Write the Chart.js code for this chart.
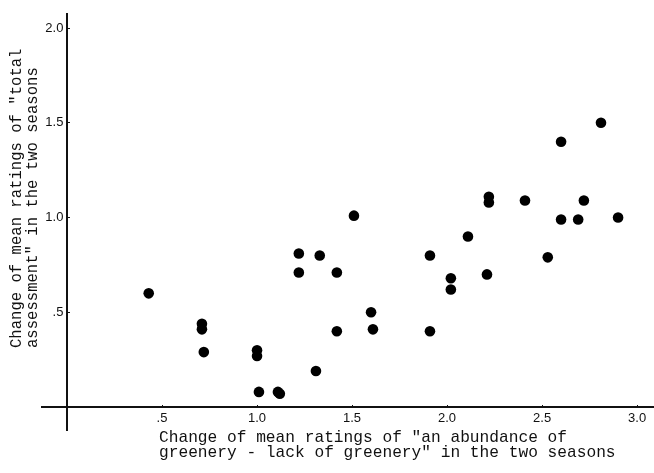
<!DOCTYPE html>
<html>
<head>
<meta charset="utf-8">
<script src="https://cdn.jsdelivr.net/npm/chart.js@4"></script>
<style>
  html, body { margin: 0; padding: 0; background: #fff; }
  #wrap { width: 654px; height: 473px; }
</style>
</head>
<body>
<div id="wrap"><canvas id="scatter" width="654" height="473"></canvas></div>
<script>
// change of "abundance of greenery" rating (x) vs change of "total assessment" (y)
const greeneryChange = [0.43, 0.71, 0.71, 0.72, 1.00, 1.00, 1.01, 1.11, 1.12, 1.22, 1.22, 1.33, 1.31, 1.42, 1.42, 1.51, 1.60,
  1.61, 1.91, 1.91, 2.02, 2.02, 2.11, 2.22, 2.22, 2.21, 2.41, 2.53, 2.60, 2.60, 2.69, 2.72, 2.81, 2.90];
const assessmentChange = [0.60, 0.44, 0.41, 0.29, 0.30, 0.27, 0.08, 0.08, 0.07, 0.81, 0.71, 0.80, 0.19, 0.71, 0.40, 1.01, 0.50,
  0.41, 0.80, 0.40, 0.68, 0.62, 0.90, 1.11, 1.08, 0.70, 1.09, 0.79, 1.40, 0.99, 0.99, 1.09, 1.50, 1.00];

const xTicks = [0.5, 1.0, 1.5, 2.0, 2.5, 3.0];
const xTickLabels = ['.5', '1.0', '1.5', '2.0', '2.5', '3.0'];
const yTicks = [0.5, 1.0, 1.5, 2.0];
const yTickLabels = ['.5', '1.0', '1.5', '2.0'];

const xCaption = ['Change of mean ratings of "an abundance of', 'greenery - lack of greenery" in the two seasons'];
const yCaption = ['Change of mean ratings of "total', 'assessment" in the two seasons'];

const INK = '#111';
const tickFont = { family: '"Liberation Sans", Arial, sans-serif', size: 13 };

// axis captions, left aligned like the typewritten original
const captions = {
    id: 'captions',
    afterDraw(chart) {
        const ctx = chart.ctx;
        ctx.save();
        ctx.fillStyle = INK;
        ctx.textAlign = 'left';
        ctx.textBaseline = 'middle';
        ctx.font = '16.2px "Liberation Mono", "Courier New", monospace';
        xCaption.forEach((line, i) => ctx.fillText(line, 159, 438 + i * 15));
        ctx.font = '15.6px "Liberation Mono", "Courier New", monospace';
        ctx.translate(17, 348);
        ctx.rotate(-Math.PI / 2);
        yCaption.forEach((line, i) => ctx.fillText(line, 0, i * 16));
        ctx.restore();
    }
};

new Chart(document.getElementById('scatter'), {
    type: 'scatter',
    data: {
        datasets: [{
            data: greeneryChange.map((x, i) => ({ x, y: assessmentChange[i] })),
            pointRadius: 5.3,
            pointHoverRadius: 5.3,
            pointBackgroundColor: '#000',
            pointBorderWidth: 0
        }]
    },
    options: {
        responsive: false,
        animation: false,
        layout: { autoPadding: false, padding: { left: 42, right: 0, top: 14, bottom: 43 } },
        plugins: { legend: { display: false }, tooltip: { enabled: false } },
        scales: {
            x: {
                type: 'linear',
                position: { y: 0 },
                min: -0.1316,
                max: 3.089,
                afterBuildTicks: s => { s.ticks = xTicks.map(v => ({ value: v })); },
                ticks: {
                    autoSkip: false,
                    maxRotation: 0,
                    padding: 7,
                    color: INK,
                    font: tickFont,
                    callback: v => xTickLabels[xTicks.indexOf(v)]
                },
                grid: { drawOnChartArea: false, drawTicks: true, tickLength: -3, color: INK, lineWidth: 1 },
                border: { display: true, color: INK, width: 2 }
            },
            y: {
                type: 'linear',
                position: { x: 0 },
                min: -0.121,
                max: 2.074,
                afterBuildTicks: s => { s.ticks = yTicks.map(v => ({ value: v })); },
                ticks: {
                    autoSkip: false,
                    padding: 6,
                    color: INK,
                    font: tickFont,
                    // trailing space keeps the label off the axis line
                    callback: v => yTickLabels[yTicks.indexOf(v)] + ' '
                },
                grid: { drawOnChartArea: false, drawTicks: true, tickLength: -4, color: INK, lineWidth: 1 },
                border: { display: true, color: INK, width: 2 }
            }
        }
    },
    plugins: [captions]
});
</script>
</body>
</html>
